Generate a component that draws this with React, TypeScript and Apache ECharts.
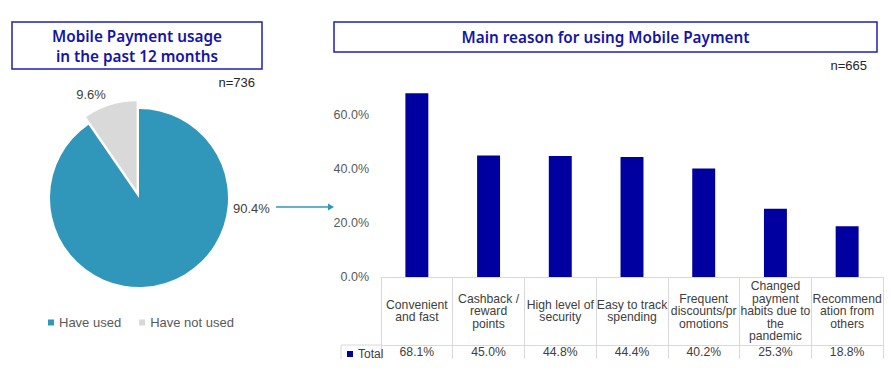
import React, { useEffect, useRef } from "react";
import * as echarts from "echarts";

const pieNames = ["Have used", "Have not used"];
const pieValues = [90.4, 9.6];
const pieColors = ["#3197ba", "#d9d9d9"];

const categories = [
  "Convenient\nand fast",
  "Cashback /\nreward\npoints",
  "High level of\nsecurity",
  "Easy to track\nspending",
  "Frequent\ndiscounts/pr\nomotions",
  "Changed\npayment\nhabits due to\nthe\npandemic",
  "Recommend\nation from\nothers",
];
const totals = [68.1, 45.0, 44.8, 44.4, 40.2, 25.3, 18.8];
const seriesName = "Total";

const leftTitle = "Mobile Payment usage\nin the past 12 months";
const rightTitle = "Main reason for using Mobile Payment";
const leftN = "n=736";
const rightN = "n=665";

const FONT = "'Liberation Sans', Arial, sans-serif";
const TITLE_FONT = "'Noto Sans', 'Open Sans', sans-serif";

export default function App() {
  const ref = useRef<HTMLDivElement>(null);
  useEffect(() => {
    if (!ref.current) return;
    const chart = echarts.init(ref.current, null, { renderer: "svg" });
    const cx = 139;
    const cy = 198;
    const pct = (v: number) => v.toFixed(1) + "%";
    chart.setOption({
      animation: false,
      backgroundColor: "#ffffff",
      legend: [
        {
          data: pieNames,
          left: 43,
          top: 311,
          icon: "rect",
          itemWidth: 6,
          itemHeight: 6,
          itemGap: 18,
          selectedMode: false,
          textStyle: { fontSize: 13, color: "#595959", fontFamily: FONT },
        },
        {
          data: [seriesName],
          left: 342,
          top: 343,
          icon: "rect",
          itemWidth: 6,
          itemHeight: 6,
          selectedMode: false,
          textStyle: { fontSize: 12, color: "#404040", fontFamily: FONT },
        },
      ],
      grid: { left: 381, right: 8, top: 88, bottom: 105, containLabel: false },
      xAxis: [
        {
          type: "category",
          data: categories,
          axisLine: { show: true, lineStyle: { color: "#d9d9d9", width: 1 } },
          axisTick: { show: true, length: 68, lineStyle: { color: "#d9d9d9" } },
          axisLabel: {
            interval: 0,
            margin: 34,
            verticalAlign: "middle",
            lineHeight: 12.5,
            fontSize: 12.2,
            color: "#404040",
            fontFamily: FONT,
          },
        },
        {
          type: "category",
          position: "bottom",
          offset: 68,
          data: totals.map(pct),
          axisLine: { show: true, lineStyle: { color: "#d9d9d9", width: 1 } },
          axisTick: { show: true, length: 14, lineStyle: { color: "#d9d9d9" } },
          axisLabel: {
            interval: 0,
            margin: 7,
            verticalAlign: "middle",
            fontSize: 12.2,
            color: "#404040",
            fontFamily: FONT,
          },
        },
      ],
      yAxis: {
        type: "value",
        min: 0,
        max: 70,
        interval: 20,
        axisLine: { show: false },
        axisTick: { show: false },
        splitLine: { show: false },
        axisLabel: {
          showMaxLabel: false,
          margin: 12,
          fontSize: 12.5,
          color: "#595959",
          fontFamily: FONT,
          formatter: (v: number) => pct(v),
        },
      },
      series: [
        {
          type: "bar",
          name: seriesName,
          xAxisIndex: 0,
          data: totals,
          barWidth: "32%",
          itemStyle: { color: "#0000a0" },
          emphasis: { disabled: true },
          silent: true,
        },
        {
          type: "pie",
          center: [cx, cy],
          radius: 89,
          startAngle: 90,
          clockwise: true,
          selectedMode: "single",
          selectedOffset: 8,
          silent: true,
          emphasis: { disabled: true },
          data: pieNames.map((n, i) => ({
            name: n,
            value: pieValues[i],
            selected: i === 1,
            itemStyle: { color: pieColors[i] },
          })),
          label: { show: false },
          labelLine: { show: false },
        },
      ],
      graphic: [
        {
          type: "text",
          x: cx + 94,
          y: cy + 10,
          style: {
            text: pct(pieValues[0]),
            align: "left",
            verticalAlign: "middle",
            fontSize: 13,
            fontFamily: FONT,
            fill: "#404040",
          },
          silent: true,
        },
        {
          type: "text",
          x: cx - 48,
          y: cy - 104,
          style: {
            text: pct(pieValues[1]),
            align: "center",
            verticalAlign: "middle",
            fontSize: 13,
            fontFamily: FONT,
            fill: "#404040",
          },
          silent: true,
        },
        {
          type: "rect",
          shape: { x: 12, y: 22, width: 250, height: 47 },
          style: { fill: "#ffffff", stroke: "#2020b0", lineWidth: 1.5 },
          silent: true,
        },
        {
          type: "text",
          x: 137,
          y: 45.5,
          style: {
            text: leftTitle,
            align: "center",
            verticalAlign: "middle",
            fontSize: 15.3,
            fontWeight: 600,
            lineHeight: 20,
            fontFamily: TITLE_FONT,
            fill: "#1414a6",
          },
          silent: true,
        },
        {
          type: "rect",
          shape: { x: 334, y: 22, width: 543, height: 30 },
          style: { fill: "#ffffff", stroke: "#2020b0", lineWidth: 1.5 },
          silent: true,
        },
        {
          type: "text",
          x: 605.5,
          y: 37,
          style: {
            text: rightTitle,
            align: "center",
            verticalAlign: "middle",
            fontSize: 15.3,
            fontWeight: 600,
            fontFamily: TITLE_FONT,
            fill: "#1414a6",
          },
          silent: true,
        },
        {
          type: "text",
          x: 255,
          y: 82,
          style: {
            text: leftN,
            align: "right",
            verticalAlign: "middle",
            fontSize: 13,
            fontFamily: FONT,
            fill: "#262626",
          },
          silent: true,
        },
        {
          type: "text",
          x: 867,
          y: 65,
          style: {
            text: rightN,
            align: "right",
            verticalAlign: "middle",
            fontSize: 13,
            fontFamily: FONT,
            fill: "#262626",
          },
          silent: true,
        },
        {
          type: "line",
          shape: { x1: 276, y1: 207, x2: 329, y2: 207 },
          style: { stroke: "#3197ba", lineWidth: 1.5 },
          silent: true,
        },
        {
          type: "polygon",
          shape: { points: [[328, 203.5], [334, 207], [328, 210.5]] },
          style: { fill: "#3197ba" },
          silent: true,
        },
        {
          type: "line",
          shape: { x1: 341, y1: 345, x2: 381, y2: 345 },
          style: { stroke: "#d9d9d9", lineWidth: 1 },
          silent: true,
        },
        {
          type: "line",
          shape: { x1: 341, y1: 345, x2: 341, y2: 359 },
          style: { stroke: "#d9d9d9", lineWidth: 1 },
          silent: true,
        },
      ],
    });
    return () => chart.dispose();
  }, []);
  return (
    <div
      ref={ref}
      style={{ position: "fixed", left: 0, top: 0, width: 891, height: 382 }}
    />
  );
}
